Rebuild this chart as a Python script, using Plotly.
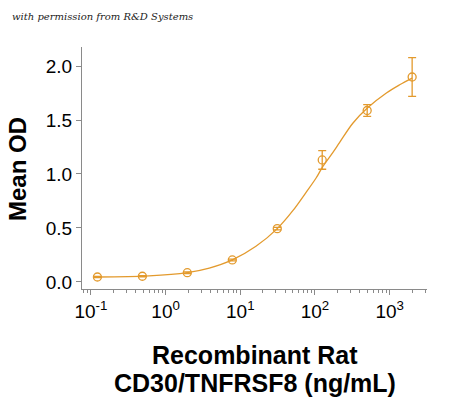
import plotly.graph_objects as go

# Data
conc = [0.122, 0.488, 1.95, 7.81, 31.25, 125, 500, 2000]
mean_od = [0.046, 0.053, 0.086, 0.204, 0.494, 1.13, 1.588, 1.898]
err = [0.005, 0.005, 0.008, 0.008, 0.012, 0.086, 0.054, 0.18]

# fitted curve, points
curve_x = [0.122, 0.6, 1.95, 3.84, 7.81, 16.2, 31.25, 50.5, 76, 104, 127, 174, 213, 321, 511, 904, 1361, 2000]
curve_y = [0.046, 0.056, 0.086, 0.128, 0.204, 0.33, 0.494, 0.66, 0.83, 0.965, 1.068, 1.2, 1.29, 1.47, 1.615, 1.75, 1.826, 1.888]

tick_vals = [0.1, 1, 10, 100, 1000]
tick_text = ["10<sup>-1</sup>", "10<sup>0</sup>", "10<sup>1</sup>", "10<sup>2</sup>", "10<sup>3</sup>"]
y_ticks = [0.0, 0.5, 1.0, 1.5, 2.0]
y_tick_text = ["0.0", "0.5", "1.0", "1.5", "2.0"]

color = "#E39A2D"
fig = go.Figure()
fig.add_trace(go.Scatter(x=curve_x, y=curve_y, mode="lines", line=dict(color=color, width=1.3, shape="spline"),
                         hoverinfo="skip", showlegend=False))
fig.add_trace(go.Scatter(x=conc, y=mean_od, mode="markers",
                         marker=dict(symbol="circle-open", size=8, color=color, line=dict(width=1.3, color=color)),
                         error_y=dict(type="data", array=err, color=color, thickness=1.3, width=4),
                         showlegend=False))

axis_col = "#8a8a8a"
L, R, T, B = 82, 23, 47, 108
H = 397 - T - B


def py(p):
    return (397 - B - p) / H


fig.update_layout(
    width=450, height=397,
    margin=dict(l=L, r=R, t=T, b=B),
    paper_bgcolor="white", plot_bgcolor="white",
    font=dict(family="Liberation Sans, Arial, sans-serif", color="black"),
    xaxis=dict(type="log", range=[-1.12, 3.5], tickvals=tick_vals, ticktext=tick_text, automargin=False,
               showgrid=False, zeroline=False, showline=True, linecolor=axis_col, linewidth=1,
               ticks="outside", ticklen=5, tickcolor=axis_col, tickfont=dict(size=19),
               minor=dict(ticks="outside", ticklen=3, tickcolor=axis_col, dtick="D1", showgrid=False)),
    yaxis=dict(range=[-0.065, 2.176], tickvals=y_ticks, ticktext=y_tick_text, automargin=False,
               showgrid=False, zeroline=False, showline=True, linecolor=axis_col, linewidth=1,
               ticks="outside", ticklen=5, tickcolor=axis_col, tickfont=dict(size=19)),
    annotations=[
        dict(text="<i>with permission from R&amp;D Systems</i>", xref="paper", yref="paper",
             x=(10 - L) / 345, y=py(17), xanchor="left", yanchor="middle", showarrow=False,
             font=dict(family="DejaVu Serif, serif", size=10, color="#222")),
        dict(text="<b>Recombinant Rat</b>", xref="paper", yref="paper", x=0.5, y=py(355),
             xanchor="center", yanchor="middle", showarrow=False, font=dict(size=25)),
        dict(text="<b>CD30/TNFRSF8 (ng/mL)</b>", xref="paper", yref="paper", x=0.5, y=py(383),
             xanchor="center", yanchor="middle", showarrow=False, font=dict(size=25)),
        dict(text="<b>Mean OD</b>", xref="paper", yref="paper", x=(17 - L) / 345, y=py(169),
             xanchor="center", yanchor="middle", textangle=-90, showarrow=False, font=dict(size=24)),
    ],
)
fig.write_html("out.html", config={"displayModeBar": False},
               post_script="document.body.style.margin='0';document.body.style.overflow='hidden';")
